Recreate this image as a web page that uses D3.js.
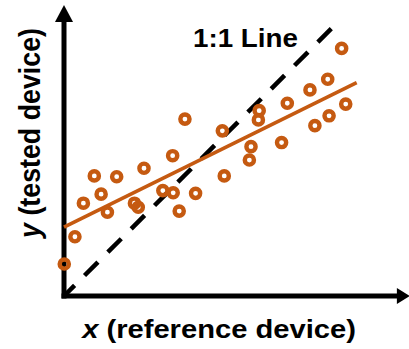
<!DOCTYPE html>
<html>
<head>
<meta charset="utf-8">
<script src="https://cdn.jsdelivr.net/npm/d3@7"></script>
<style>
  html, body { margin: 0; padding: 0; background: #fff; }
  svg { display: block; }
  text { font-family: "Liberation Sans", Arial, sans-serif; font-weight: bold; fill: #000; }
</style>
</head>
<body>
<svg id="chart" width="409" height="349"></svg>
<script>
// Paired readings: reference device (x) vs tested device (y)
const refValues = [0.01, 0.40, 0.71, 1.11, 1.36, 1.59, 1.93, 2.58, 2.72, 2.93,
                   3.62, 3.98, 4.00, 4.22, 4.43, 4.82, 5.80, 5.87, 6.79, 6.85,
                   7.12, 7.15, 7.97, 8.18, 9.01, 9.19, 9.66, 9.71, 10.17, 10.32];
const testValues = [1.17, 2.17, 3.40, 4.40, 3.73, 3.07, 4.37, 3.40, 3.25, 4.68,
                    3.86, 5.14, 3.78, 3.11, 6.48, 3.76, 6.05, 4.40, 4.98, 5.47,
                    6.45, 6.79, 5.62, 7.06, 7.55, 6.24, 7.94, 6.60, 9.07, 7.03];

// Linear fit y = intercept + slope * x, drawn over this x span
const fitIntercept = 2.52;
const fitSlope = 0.494;
const fitSpan = [0, 10.72];

// Identity line span
const identitySpan = [0, 10];

// Extent of the arrowed axes (data units)
const xAxisEnd = 12.67;
const yAxisEnd = 10.66;

const labels = { x: "x", xRest: " (reference device)", y: "y", yRest: " (tested device)", identity: "1:1 Line" };

const orange = "#C55A11";
const svg = d3.select("#chart");

const x = d3.scaleLinear().domain([0, 10]).range([64, 337]);
const y = d3.scaleLinear().domain([0, 10]).range([296, 23]);

// Axes with arrowheads
const axisW = 5;
svg.append("line")
  .attr("x1", x(0)).attr("y1", y(0) + axisW / 2)
  .attr("x2", x(0)).attr("y2", y(yAxisEnd) + 14)
  .attr("stroke", "#000").attr("stroke-width", axisW);
svg.append("path")
  .attr("d", `M${x(0)},${y(yAxisEnd)} L${x(0) - 9},${y(yAxisEnd) + 17} L${x(0) + 9},${y(yAxisEnd) + 17} Z`)
  .attr("fill", "#000");

svg.append("line")
  .attr("x1", x(0) - axisW / 2).attr("y1", y(0))
  .attr("x2", x(xAxisEnd) - 12).attr("y2", y(0))
  .attr("stroke", "#000").attr("stroke-width", axisW);
svg.append("path")
  .attr("d", `M${x(xAxisEnd)},${y(0)} L${x(xAxisEnd) - 13},${y(0) - 8} L${x(xAxisEnd) - 13},${y(0) + 8} Z`)
  .attr("fill", "#000");

// 1:1 identity line
svg.append("line")
  .attr("x1", x(identitySpan[0])).attr("y1", y(identitySpan[0]))
  .attr("x2", x(identitySpan[1])).attr("y2", y(identitySpan[1]))
  .attr("stroke", "#000").attr("stroke-width", 4.5)
  .attr("stroke-dasharray", "19,14").attr("stroke-dashoffset", 4);

// Fitted line
svg.append("line")
  .attr("x1", x(fitSpan[0])).attr("y1", y(fitIntercept + fitSlope * fitSpan[0]))
  .attr("x2", x(fitSpan[1])).attr("y2", y(fitIntercept + fitSlope * fitSpan[1]))
  .attr("stroke", orange).attr("stroke-width", 3.6);

// Data points
svg.append("g").selectAll("circle")
  .data(d3.zip(refValues, testValues))
  .join("circle")
  .attr("cx", d => x(d[0]))
  .attr("cy", d => y(d[1]))
  .attr("r", 4.6)
  .attr("fill", "none")
  .attr("stroke", orange)
  .attr("stroke-width", 4.4);

// Identity line label
svg.append("text")
  .attr("transform", "translate(193,47) scale(1.11,1)")
  .attr("font-size", 25)
  .text(labels.identity);

// X axis title
const xt = svg.append("text")
  .attr("transform", "translate(219,338) scale(1.1,1)")
  .attr("text-anchor", "middle")
  .attr("font-size", 26.5);
xt.append("tspan").attr("font-style", "italic").text(labels.x);
xt.append("tspan").text(labels.xRest);

// Y axis title
const yt = svg.append("text")
  .attr("transform", "translate(40,133) scale(1.1,1) rotate(-90)")
  .attr("text-anchor", "middle")
  .attr("font-size", 26.8);
yt.append("tspan").attr("font-style", "italic").text(labels.y);
yt.append("tspan").text(labels.yRest);
</script>
</body>
</html>
